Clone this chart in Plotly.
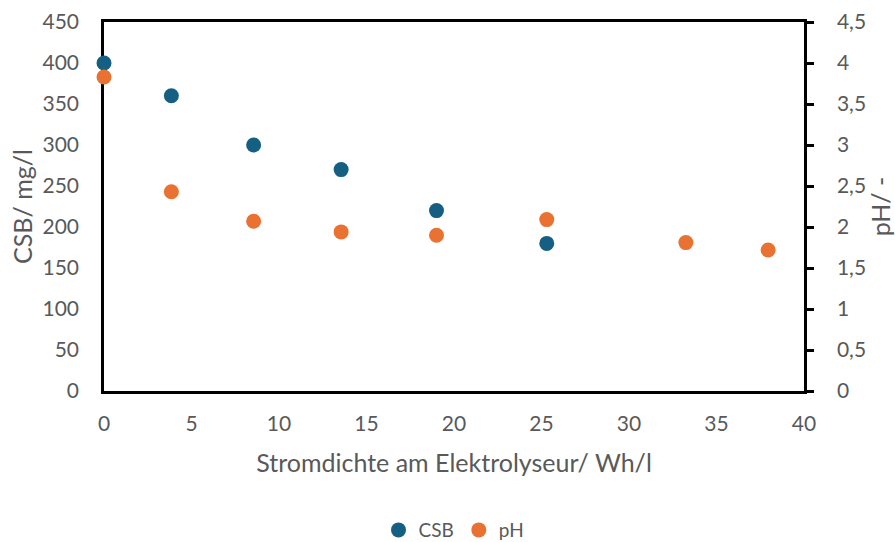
import plotly.graph_objects as go

x_csb = [0, 3.85, 8.55, 13.55, 19.0, 25.3]
csb = [400, 360, 300, 270, 220, 180]
x_ph = [0, 3.85, 8.55, 13.55, 19.0, 25.3, 33.25, 37.95]
ph = [3.83, 2.43, 2.07, 1.94, 1.90, 2.09, 1.81, 1.72]

grey = "#595959"
font = "Lato"
tick_size = 21
title_size = 25

fig = go.Figure()
fig.add_trace(go.Scatter(x=x_csb, y=csb, mode="markers", name="CSB", cliponaxis=False,
                         marker=dict(color="#156082", size=15), yaxis="y"))
fig.add_trace(go.Scatter(x=x_ph, y=ph, mode="markers", name="pH", cliponaxis=False,
                         marker=dict(color="#E97132", size=15), yaxis="y2"))

fig.update_layout(
    width=895, height=542,
    margin=dict(l=104, r=91, t=22, b=151, autoexpand=False),
    paper_bgcolor="white", plot_bgcolor="white",
    separators=",.",
    font=dict(family=font, color=grey, size=tick_size),
    showlegend=True,
    legend=dict(orientation="h", x=0.5, xanchor="center", y=0.022, yref="container",
                yanchor="middle", font=dict(size=19, color=grey), itemsizing="trace",
                itemwidth=30, tracegroupgap=0),
    xaxis=dict(range=[0, 40], dtick=5, tick0=0, showgrid=False, zeroline=False,
               showline=True, linecolor="black", linewidth=2.5, mirror=True, layer="below traces",
               ticks="", tickfont=dict(size=tick_size, color=grey), ticklabelstandoff=12,
               title=dict(text="Stromdichte am Elektrolyseur/ Wh/l",
                          font=dict(size=title_size, color=grey), standoff=21)),
    yaxis=dict(range=[0, 450], dtick=50, tick0=0, showgrid=False, zeroline=False,
               showline=True, linecolor="black", linewidth=2.5, ticks="", layer="below traces",
               tickfont=dict(size=tick_size, color=grey), ticklabelstandoff=18,
               title=dict(text="CSB/ mg/l", font=dict(size=title_size, color=grey), standoff=3)),
    yaxis2=dict(range=[0, 4.5], dtick=0.5, tick0=0, overlaying="y", side="right",
                showgrid=False, zeroline=False, showline=True, linecolor="black",
                linewidth=2.5, ticks="outside", ticklen=7, tickwidth=2.5, tickcolor="black",
                layer="below traces",
                tickfont=dict(size=tick_size, color=grey), ticklabelstandoff=19,
                title=dict(text="pH/ -", font=dict(size=title_size, color=grey), standoff=11)),
)

fig.write_html("out.html")
